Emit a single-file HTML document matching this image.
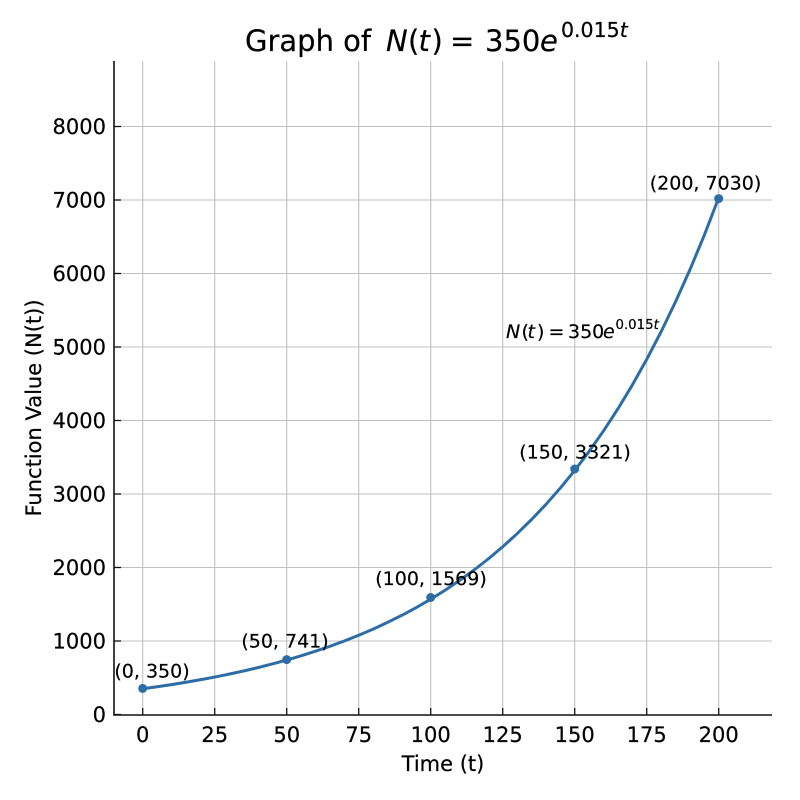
<!DOCTYPE html>
<html>
<head>
<meta charset="utf-8">
<style>
  html, body { margin: 0; padding: 0; background: #ffffff; }
  svg { display: block; }
  text { font-family: "DejaVu Sans", "Liberation Sans", sans-serif; fill: #000; stroke: #000; stroke-width: 0.2px; }
</style>
</head>
<body>
<svg width="800" height="800" viewBox="0 0 800 800" xmlns="http://www.w3.org/2000/svg">
  <rect x="0" y="0" width="800" height="800" fill="#ffffff"/>

  <!-- grid -->
  <g stroke="#c0c0c0" stroke-width="1.1">
    <line x1="142.7" y1="61" x2="142.7" y2="715"/>
    <line x1="214.7" y1="61" x2="214.7" y2="715"/>
    <line x1="286.7" y1="61" x2="286.7" y2="715"/>
    <line x1="358.7" y1="61" x2="358.7" y2="715"/>
    <line x1="430.7" y1="61" x2="430.7" y2="715"/>
    <line x1="502.7" y1="61" x2="502.7" y2="715"/>
    <line x1="574.7" y1="61" x2="574.7" y2="715"/>
    <line x1="646.7" y1="61" x2="646.7" y2="715"/>
    <line x1="718.7" y1="61" x2="718.7" y2="715"/>
    <line x1="114" y1="641" x2="772" y2="641"/>
    <line x1="114" y1="567.5" x2="772" y2="567.5"/>
    <line x1="114" y1="494" x2="772" y2="494"/>
    <line x1="114" y1="420.5" x2="772" y2="420.5"/>
    <line x1="114" y1="347" x2="772" y2="347"/>
    <line x1="114" y1="273.5" x2="772" y2="273.5"/>
    <line x1="114" y1="200" x2="772" y2="200"/>
    <line x1="114" y1="126.5" x2="772" y2="126.5"/>
  </g>

  <!-- spines -->
  <g stroke="#111" stroke-width="1.6">
    <line x1="114" y1="61" x2="114" y2="715.5"/>
    <line x1="113.2" y1="715" x2="772" y2="715"/>
  </g>

  <!-- ticks (inward) -->
  <g stroke="#111" stroke-width="1.3">
    <line x1="142.7" y1="715" x2="142.7" y2="708"/>
    <line x1="214.7" y1="715" x2="214.7" y2="708"/>
    <line x1="286.7" y1="715" x2="286.7" y2="708"/>
    <line x1="358.7" y1="715" x2="358.7" y2="708"/>
    <line x1="430.7" y1="715" x2="430.7" y2="708"/>
    <line x1="502.7" y1="715" x2="502.7" y2="708"/>
    <line x1="574.7" y1="715" x2="574.7" y2="708"/>
    <line x1="646.7" y1="715" x2="646.7" y2="708"/>
    <line x1="718.7" y1="715" x2="718.7" y2="708"/>
    <line x1="114" y1="714.5" x2="121" y2="714.5"/>
    <line x1="114" y1="641" x2="121" y2="641"/>
    <line x1="114" y1="567.5" x2="121" y2="567.5"/>
    <line x1="114" y1="494" x2="121" y2="494"/>
    <line x1="114" y1="420.5" x2="121" y2="420.5"/>
    <line x1="114" y1="347" x2="121" y2="347"/>
    <line x1="114" y1="273.5" x2="121" y2="273.5"/>
    <line x1="114" y1="200" x2="121" y2="200"/>
    <line x1="114" y1="126.5" x2="121" y2="126.5"/>
  </g>

  <!-- x tick labels -->
  <g font-size="21" text-anchor="middle">
    <text x="142.7" y="742">0</text>
    <text x="214.7" y="742">25</text>
    <text x="286.7" y="742">50</text>
    <text x="358.7" y="742">75</text>
    <text x="430.7" y="742">100</text>
    <text x="502.7" y="742">125</text>
    <text x="574.7" y="742">150</text>
    <text x="646.7" y="742">175</text>
    <text x="718.7" y="742">200</text>
  </g>

  <!-- y tick labels -->
  <g font-size="21" text-anchor="end">
    <text x="106" y="722">0</text>
    <text x="106" y="648.6">1000</text>
    <text x="106" y="575.1">2000</text>
    <text x="106" y="501.6">3000</text>
    <text x="106" y="428.1">4000</text>
    <text x="106" y="354.6">5000</text>
    <text x="106" y="281.1">6000</text>
    <text x="106" y="207.6">7000</text>
    <text x="106" y="134.1">8000</text>
  </g>

  <!-- curve -->
  <polyline fill="none" stroke="#2d6da5" stroke-width="3" stroke-linejoin="round" stroke-linecap="round"
    points="142.7,688.78 157.1,686.77 171.5,684.61 185.9,682.28 200.3,679.78 214.7,677.07 229.1,674.15 243.5,671.01 257.9,667.63 272.3,663.98 286.7,660.04 301.1,655.80 315.5,651.23 329.9,646.30 344.3,640.99 358.7,635.26 373.1,629.09 387.5,622.44 401.9,615.27 416.3,607.54 430.7,599.21 445.1,590.23 459.5,580.55 473.9,570.12 488.3,558.87 502.7,546.75 517.1,533.69 531.5,519.60 545.9,504.43 560.3,488.06 574.7,470.43 589.1,451.42 603.5,430.93 617.9,408.84 632.3,385.04 646.7,359.38 661.1,331.72 675.5,301.91 689.9,269.77 704.3,235.14 718.7,197.80"/>

  <!-- markers -->
  <g fill="#2d6da5">
    <circle cx="142.7" cy="688.4" r="4.5"/>
    <circle cx="286.7" cy="659.6" r="4.5"/>
    <circle cx="430.7" cy="597.5" r="4.5"/>
    <circle cx="574.7" cy="469" r="4.5"/>
    <circle cx="718.7" cy="198.6" r="4.5"/>
  </g>

  <!-- annotations -->
  <g font-size="19" text-anchor="middle">
    <text x="152" y="677.3">(0, 350)</text>
    <text x="285" y="647.7">(50, 741)</text>
    <text x="431" y="585">(100, 1569)</text>
    <text x="575" y="458.3">(150, 3321)</text>
    <text x="705.5" y="189.3">(200, 7030)</text>
  </g>

  <!-- function label -->
  <g font-size="19">
    <text x="506" y="338" font-style="italic">N</text>
    <text x="521.5" y="338">(</text>
    <text x="527.5" y="338" font-style="italic">t</text>
    <text x="537" y="338">)</text>
    <text x="548.5" y="338">=</text>
    <text x="568" y="338">350</text>
    <text x="603" y="338" font-style="italic">e</text>
    <text x="615.5" y="329" font-size="13.3">0.015<tspan font-style="italic">t</tspan></text>
  </g>

  <!-- axis labels -->
  <text x="443" y="771" font-size="21" text-anchor="middle">Time (t)</text>
  <text x="0" y="0" font-size="21" text-anchor="middle" transform="translate(41,408) rotate(-90)">Function Value (N(t))</text>

  <!-- title -->
  <g font-size="29">
    <text x="245" y="51">Graph of</text>
    <text x="386" y="51" font-style="italic">N</text>
    <text x="408" y="51">(</text>
    <text x="418.5" y="51" font-style="italic">t</text>
    <text x="431.5" y="51">)</text>
    <text x="450" y="51">=</text>
    <text x="485" y="51">350</text>
    <text x="540" y="51" font-style="italic">e</text>
    <text x="561" y="37" font-size="20.5">0.015<tspan font-style="italic">t</tspan></text>
  </g>
</svg>
</body>
</html>
